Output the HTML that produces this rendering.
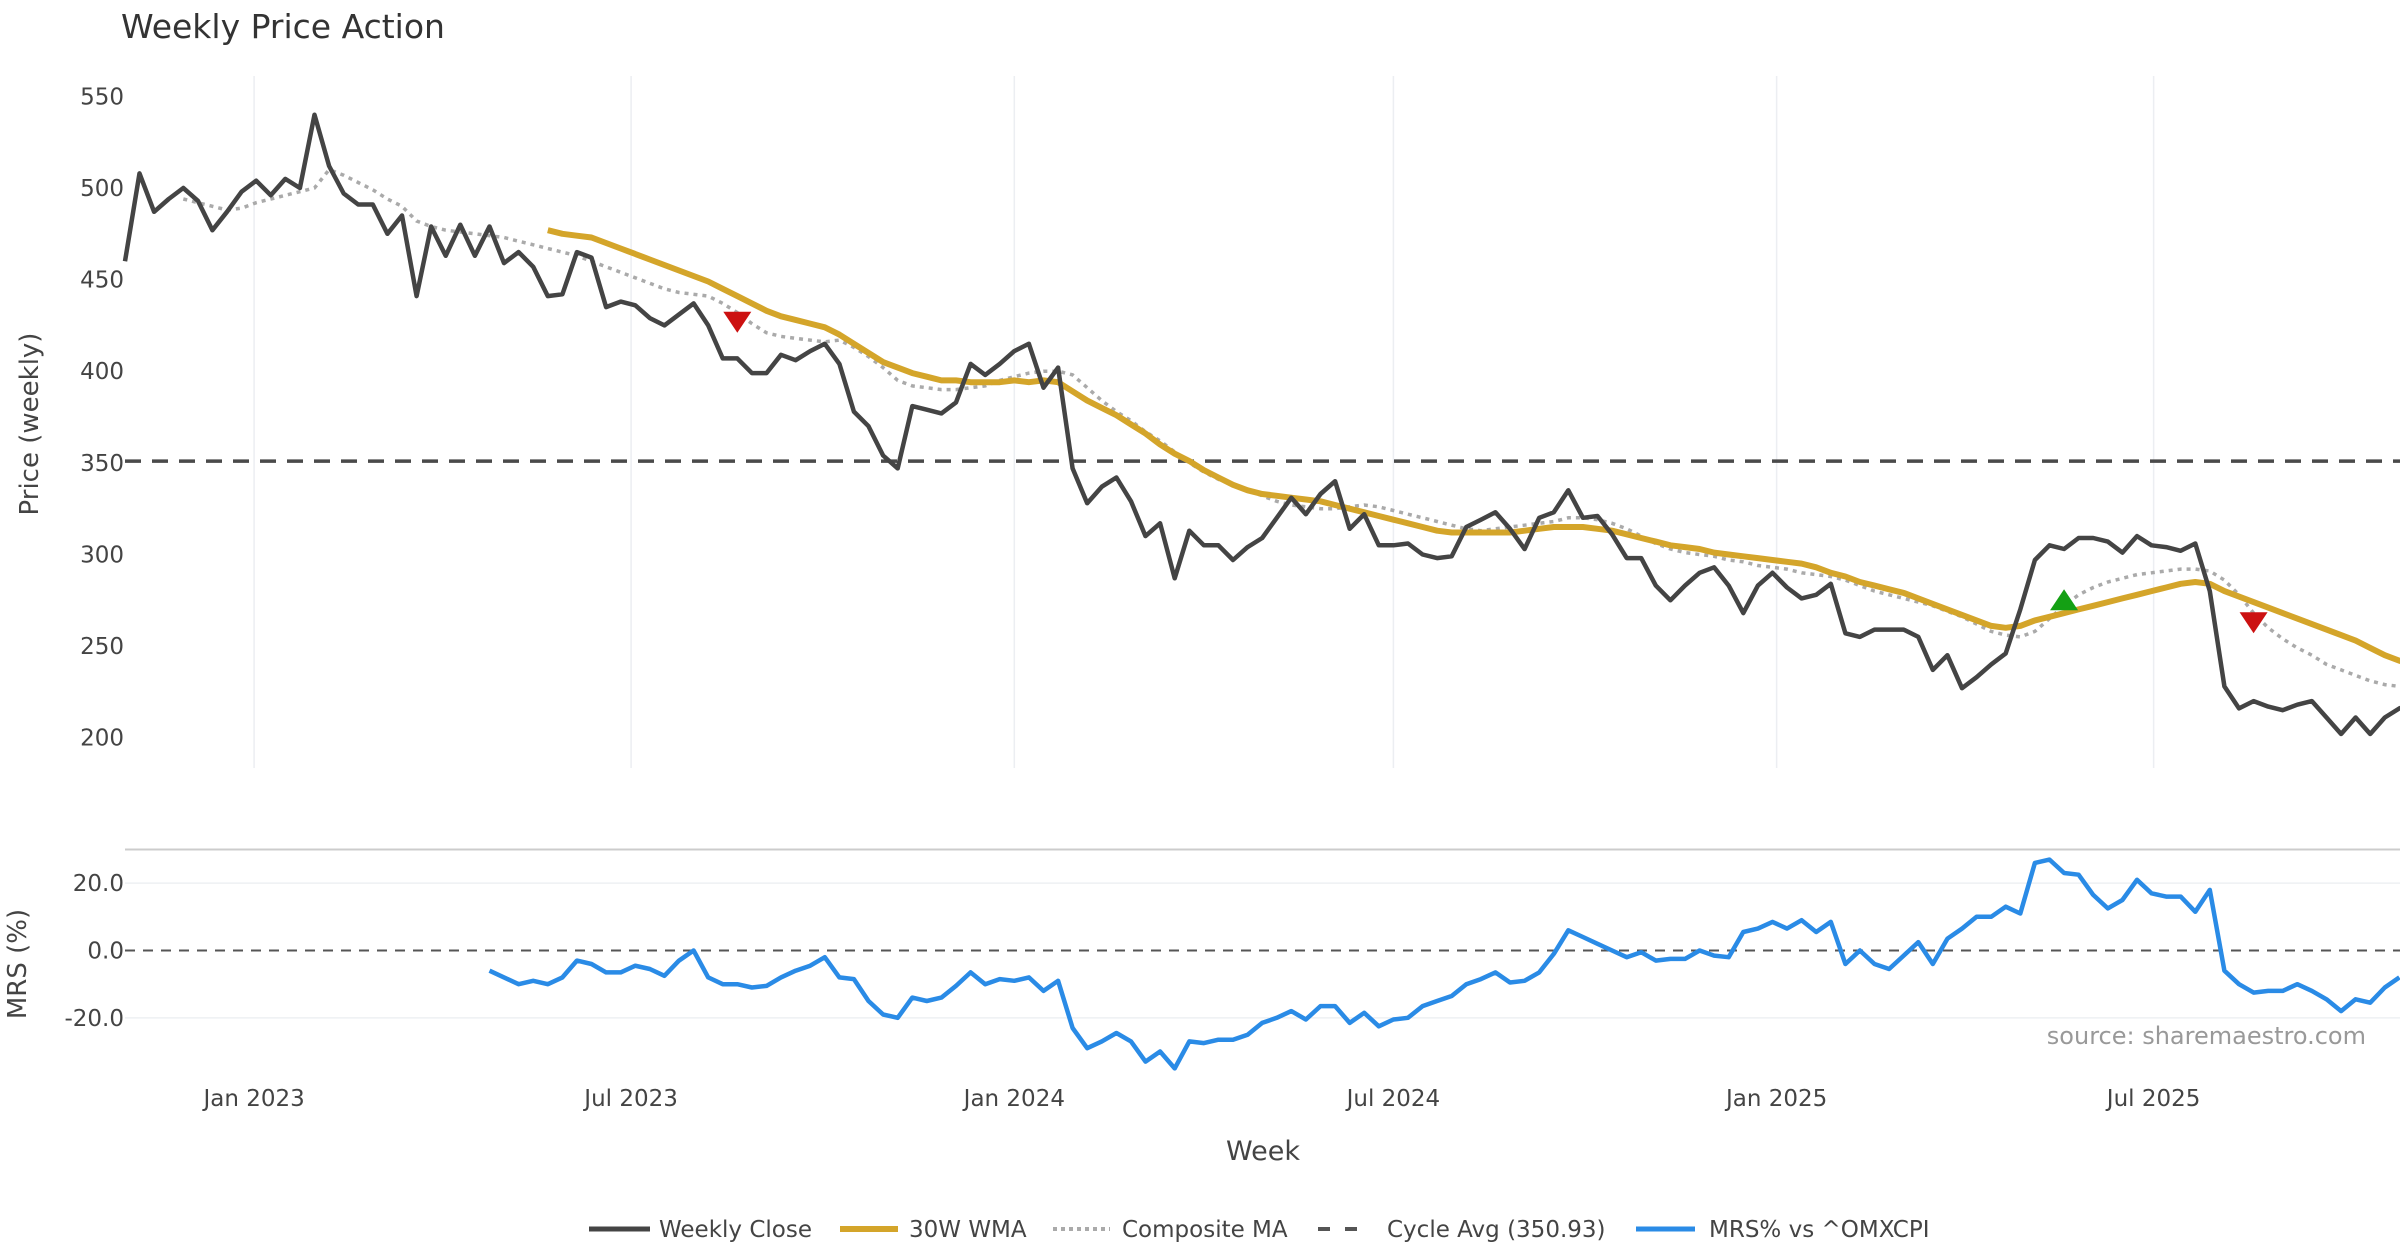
<!DOCTYPE html>
<html><head><meta charset="utf-8"><style>
html,body{margin:0;padding:0;background:#fff;}
svg{display:block;font-family:"DejaVu Sans","Liberation Sans",sans-serif;}
</style></head><body>
<svg id="chart" width="2400" height="1260" viewBox="0 0 2400 1260">
<text x="121" y="38" font-size="33" fill="#333">Weekly Price Action</text>
<g id="grid"></g>
<g id="axes"></g>
<g id="series"></g>
<text x="0" y="0" transform="translate(38,424) rotate(-90)" text-anchor="middle" font-size="26" fill="#444">Price (weekly)</text>
<text x="0" y="0" transform="translate(26,964) rotate(-90)" text-anchor="middle" font-size="26" fill="#444">MRS (%)</text>
<text x="1263" y="1160" text-anchor="middle" font-size="27" fill="#444">Week</text>
<text x="2366" y="1044" text-anchor="end" font-size="24" fill="#999">source: sharemaestro.com</text>
<g font-size="23" fill="#444">
 <g><line x1="589" y1="1229" x2="650" y2="1229" stroke="#444" stroke-width="5"/><text x="659" y="1237">Weekly Close</text></g>
 <g><line x1="840" y1="1229" x2="898" y2="1229" stroke="#d4a52a" stroke-width="6"/><text x="909" y="1237">30W WMA</text></g>
 <g><line x1="1053" y1="1229" x2="1110" y2="1229" stroke="#aaa" stroke-width="4" stroke-dasharray="4,4"/><text x="1122" y="1237">Composite MA</text></g>
 <g><line x1="1318" y1="1229" x2="1365" y2="1229" stroke="#555" stroke-width="4" stroke-dasharray="12,15"/><text x="1387" y="1237">Cycle Avg (350.93)</text></g>
 <g><line x1="1636" y1="1229" x2="1695" y2="1229" stroke="#2a8be6" stroke-width="5"/><text x="1709" y="1237">MRS% vs ^OMXCPI</text></g>
</g>
</svg>
<script>
const closeVals=[460,508,487,494,500,493,477,487,498,504,496,505,500,540,512,497,491,491,475,485,441,479,463,480,463,479,459,465,457,441,442,465,462,435,438,436,429,425,431,437,425,407,407,399,399,409,406,411,415,404,378,370,354,347,381,379,377,383,404,398,404,411,415,391,402,347,328,337,342,329,310,317,287,313,305,305,297,304,309,320,331,322,333,340,314,322,305,305,306,300,298,299,315,319,323,314,303,320,323,335,320,321,311,298,298,283,275,283,290,293,283,268,283,290,282,276,278,284,257,255,259,259,259,255,237,245,227,233,240,246,270,297,305,303,309,309,307,301,310,305,304,302,306,280,228,216,220,217,215,218,220,211,202,211,202,211,216,219];
const wmaStart=29;
const wmaVals=[477,475,474,473,470,467,464,461,458,455,452,449,445,441,437,433,430,428,426,424,420,415,410,405,402,399,397,395,395,394,394,394,395,394,395,394,389,384,380,376,371,366,360,355,351,346,342,338,335,333,332,331,330,329,327,325,323,321,319,317,315,313,312,312,312,312,312,313,314,315,315,315,314,313,311,309,307,305,304,303,301,300,299,298,297,296,295,293,290,288,285,283,281,279,276,273,270,267,264,261,260,261,264,266,268,270,272,274,276,278,280,282,284,285,284,280,277,274,271,268,265,262,259,256,253,249,245,242,240];
const compStart=4;
const compVals=[494,492,490,488,489,492,494,496,498,500,510,507,503,499,494,490,482,479,477,476,475,474,473,471,469,467,465,463,460,457,454,451,448,445,443,442,441,437,432,426,421,419,418,417,416,417,413,408,402,395,392,391,390,390,391,392,395,397,399,400,400,398,391,384,378,373,367,362,356,350,345,341,338,335,332,329,327,326,325,325,326,327,326,324,322,320,318,316,314,313,314,315,316,317,318,320,320,319,317,314,310,306,303,301,300,299,297,296,294,293,292,290,289,288,286,283,280,278,276,274,272,269,266,262,258,256,255,258,265,272,278,282,285,287,289,290,291,292,292,291,286,278,268,260,254,249,245,240,237,234,231,229,228];
const mrsStart=25;
const mrsVals=[-6,-8,-10,-9,-10,-8,-3,-4,-6.5,-6.5,-4.5,-5.5,-7.5,-3,0,-8,-10,-10,-11,-10.5,-8,-6,-4.5,-2,-8,-8.5,-15,-19,-20,-14,-15,-14,-10.5,-6.5,-10,-8.5,-9,-8,-12,-9,-23,-29,-27,-24.5,-27,-33,-30,-35,-27,-27.5,-26.5,-26.5,-25,-21.5,-20,-18,-20.5,-16.5,-16.5,-21.5,-18.5,-22.5,-20.5,-20,-16.5,-15,-13.5,-10,-8.5,-6.5,-9.5,-9,-6.5,-1,6,4,2,0,-2,-0.5,-3,-2.5,-2.5,0,-1.5,-2,5.5,6.5,8.5,6.5,9,5.5,8.5,-4,0,-4,-5.5,-1.5,2.5,-4,3.5,6.5,10,10,13,11,26,27,23,22.5,16.5,12.5,15,21,17,16,16,11.5,18,-6,-10,-12.5,-12,-12,-10,-12,-14.5,-18,-14.5,-15.5,-11,-8];
const cycleAvg=350.93;
const priceTicks=[550,500,450,400,350,300,250,200];
const mrsTicks=[20,0,-20];
const mrsTickLabels=["20.0","0.0","-20.0"];
const xTickDates=["2023-01-01","2023-07-01","2024-01-01","2024-07-01","2025-01-01","2025-07-01"];
const xTickLabels=["Jan 2023","Jul 2023","Jan 2024","Jul 2024","Jan 2025","Jul 2025"];
const signalIdx=[42,133,146];
const signalVal=[427,275,263];
const signalType=["down","up","down"];
const startDate="2022-10-31";

const NS="http://www.w3.org/2000/svg";
const DAY=86400000, ORIGIN=Date.parse("2023-01-01");
function xDays(d){return 254.1+d*2.0828;}
function xDate(s){return xDays((Date.parse(s)-ORIGIN)/DAY);}
const x0=xDate(startDate);
function xIdx(i){return x0+i*7*2.0828;}
function yP(v){return 96.4+(550-v)*(641.3/350);}
function yM(v){return 950.5-v*3.3674;}
function el(tag,attrs,parent){const e=document.createElementNS(NS,tag);for(const k in attrs)e.setAttribute(k,attrs[k]);parent.appendChild(e);return e;}
const grid=document.getElementById('grid'),axes=document.getElementById('axes'),series=document.getElementById('series');

xTickDates.forEach((d,i)=>{
 const x=xDate(d);
 const g=el('line',{x1:x,y1:76,x2:x,y2:768,stroke:'#eceef2','stroke-width':1.5},grid);
 
 
 const t=el('text',{x:x,y:1106,'text-anchor':'middle','font-size':23,fill:'#444'},axes);
 t.textContent=xTickLabels[i];
 
 
});
priceTicks.forEach(v=>{
 const t=el('text',{x:124,y:yP(v)+8,'text-anchor':'end','font-size':23,fill:'#444'},axes);
 t.textContent=v;
 
 
});
const sep=el('line',{x1:125,y1:849.5,x2:2400,y2:849.5,stroke:'#ccc','stroke-width':2},grid);


mrsTicks.forEach((v,i)=>{
 if(v!==0){const g=el('line',{x1:125,y1:yM(v),x2:2400,y2:yM(v),stroke:'#eef0f3','stroke-width':1.5},grid);
 
 }
 const t=el('text',{x:124,y:yM(v)+8,'text-anchor':'end','font-size':23,fill:'#444'},axes);
 t.textContent=mrsTickLabels[i];
 
 
});
const zl=el('line',{x1:125,y1:yM(0),x2:2400,y2:yM(0),stroke:'#555','stroke-width':2,'stroke-dasharray':'10,8'},series);


const cl=el('line',{x1:125,y1:yP(cycleAvg),x2:2400,y2:yP(cycleAvg),stroke:'#4a4a4a','stroke-width':3.5,'stroke-dasharray':'16,11'},series);



function pts(vals,start,yf){return vals.map((v,i)=>xIdx(start+i).toFixed(1)+','+yf(v).toFixed(1)).join(' ');}
const comp=el('polyline',{points:pts(compVals,compStart,yP),fill:'none',stroke:'#aaa','stroke-width':3.5,'stroke-dasharray':'4,5'},series);


const wma=el('polyline',{points:pts(wmaVals,wmaStart,yP),fill:'none',stroke:'#d4a52a','stroke-width':6,'stroke-linejoin':'round'},series);


const cls=el('polyline',{points:pts(closeVals,0,yP),fill:'none',stroke:'#444','stroke-width':4.5,'stroke-linejoin':'round'},series);


const mrs=el('polyline',{points:pts(mrsVals,mrsStart,yM),fill:'none',stroke:'#2a8be6','stroke-width':4.5,'stroke-linejoin':'round'},series);


signalIdx.forEach((ix,i)=>{
 const x=xIdx(ix),y=yP(signalVal[i]);
 let p;
 if(signalType[i]==='down') p=`${x-14},${y-10} ${x+14},${y-10} ${x},${y+11}`;
 else p=`${x-14},${y+10} ${x+14},${y+10} ${x},${y-11}`;
 const m=el('polygon',{points:p,fill:signalType[i]==='down'?'#cc1111':'#14a014'},series);
 
 
});
</script>
</body></html>
